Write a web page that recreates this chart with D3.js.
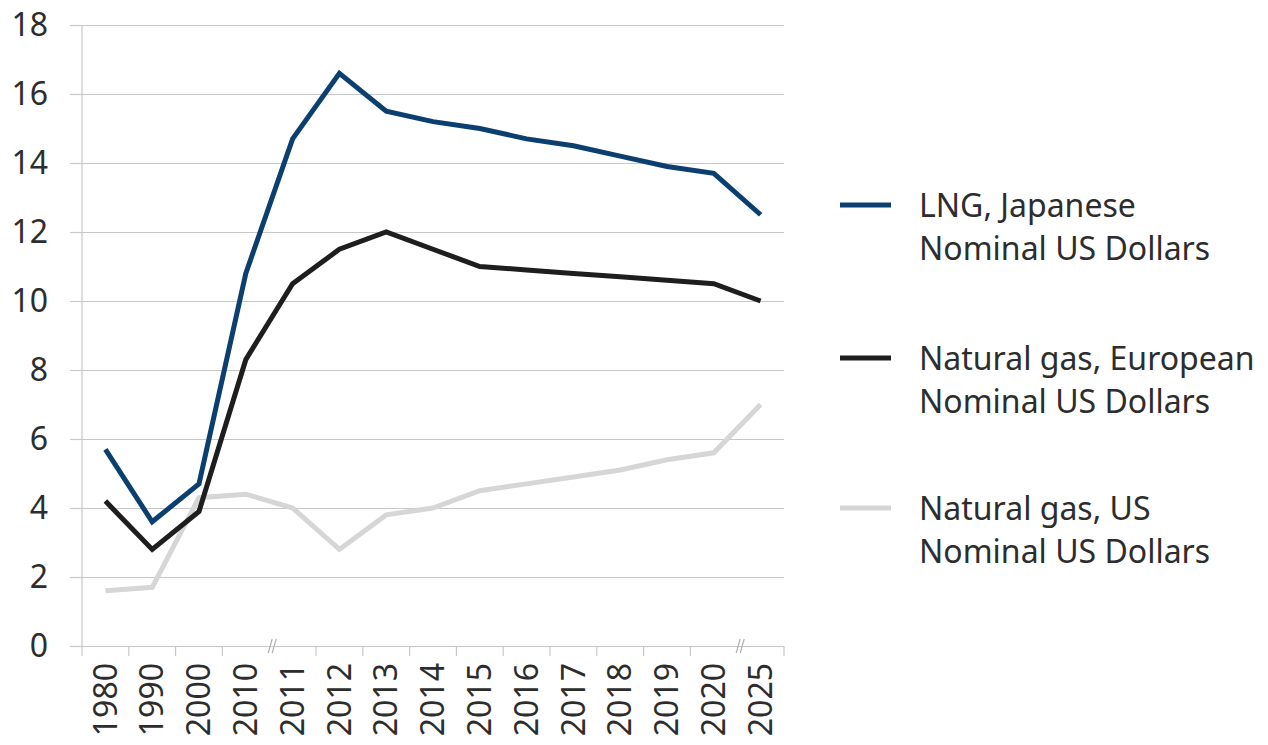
<!DOCTYPE html>
<html>
<head>
<meta charset="utf-8">
<script src="https://cdn.jsdelivr.net/npm/d3@7"></script>
<style>
  body { margin: 0; background: #fff; }
  svg { display: block; font-family: "Noto Sans", sans-serif; }
</style>
</head>
<body>
<svg id="chart"></svg>
<script>
// Chart size
const width = 1268, height = 745;

// Categories and series
const years = ["1980", "1990", "2000", "2010", "2011", "2012", "2013", "2014", "2015", "2016", "2017", "2018", "2019", "2020", "2025"];
const lngJapan = [5.7, 3.6, 4.7, 10.8, 14.7, 16.6, 15.5, 15.2, 15.0, 14.7, 14.5, 14.2, 13.9, 13.7, 12.5];
const gasEurope = [4.2, 2.8, 3.9, 8.3, 10.5, 11.5, 12.0, 11.5, 11.0, 10.9, 10.8, 10.7, 10.6, 10.5, 10.0];
const gasUS = [1.6, 1.7, 4.3, 4.4, 4.0, 2.8, 3.8, 4.0, 4.5, 4.7, 4.9, 5.1, 5.4, 5.6, 7.0];
const yTicks = [0, 2, 4, 6, 8, 10, 12, 14, 16, 18];
const breakAfter = ["2010", "2020"]; // axis breaks

const series = [
  { name: ["LNG, Japanese", "Nominal US Dollars"], values: lngJapan, color: "#0b3f6f" },
  { name: ["Natural gas, European", "Nominal US Dollars"], values: gasEurope, color: "#1e1e1e" },
  { name: ["Natural gas, US", "Nominal US Dollars"], values: gasUS, color: "#d6d6d6" }
];

const fontSize = 32;
const textColor = "#2d2d2d";

const svg = d3.select("#chart")
  .attr("width", width)
  .attr("height", height);

// Scales
const x = d3.scaleBand().domain(years).range([82, 784]).padding(0);
const y = d3.scaleLinear().domain([0, 18]).range([646, 25]);
const gridColor = "#c8c8c8";

// Horizontal gridlines + y labels
svg.append("g")
  .attr("transform", "translate(82,0)")
  .call(d3.axisLeft(y).tickValues(yTicks).tickSize(12).tickPadding(22))
  .call(g => g.select(".domain").remove())
  .call(g => g.selectAll(".tick line").clone()
      .attr("x2", 784 - 82))
  .call(g => g.selectAll(".tick line").attr("stroke", gridColor).attr("stroke-width", 1.2))
  .call(g => g.selectAll(".tick text")
      .attr("fill", textColor)
      .attr("font-size", fontSize)
      .attr("font-family", "Noto Sans"));

// Vertical axis line
svg.append("line")
  .attr("x1", 82).attr("x2", 82)
  .attr("y1", y(18)).attr("y2", 656)
  .attr("stroke", gridColor).attr("stroke-width", 1.2);

// Category boundary ticks below x axis
const boundaries = years.map(d => x(d) + x.bandwidth()).filter((v, i) => !breakAfter.includes(years[i]));
svg.append("g").selectAll("line")
  .data(boundaries)
  .join("line")
  .attr("x1", d => d).attr("x2", d => d)
  .attr("y1", 646).attr("y2", 656)
  .attr("stroke", gridColor).attr("stroke-width", 1.2);

// Axis break marks
const breaks = svg.append("g");
breakAfter.forEach(yr => {
  const bx = x(yr) + x.bandwidth() + 3;
  [-2, 2].forEach(off => {
    breaks.append("line")
      .attr("x1", bx + off - 2).attr("x2", bx + off + 2)
      .attr("y1", 653).attr("y2", 639)
      .attr("stroke", "#b0b0b0").attr("stroke-width", 1.2);
  });
});

// X labels (rotated)
svg.append("g").selectAll("text")
  .data(years)
  .join("text")
  .attr("transform", d => `translate(${x(d) + x.bandwidth() / 2},663) rotate(-90)`)
  .attr("text-anchor", "end")
  .attr("dy", "0.35em")
  .attr("font-size", fontSize)
  .attr("fill", textColor)
  .text(d => d);

// Lines
const line = d3.line()
  .x((d, i) => x(years[i]) + x.bandwidth() / 2)
  .y(d => y(d));

// draw light series first so darker ones sit on top
[series[2], series[1], series[0]].forEach(s => {
  svg.append("path")
    .datum(s.values)
    .attr("fill", "none")
    .attr("stroke", s.color)
    .attr("stroke-width", 5)
    .attr("d", line);
});

// Legend
const legendY = [205, 358, 508];
series.forEach((s, i) => {
  const g = svg.append("g").attr("transform", `translate(0,${legendY[i]})`);
  g.append("line")
    .attr("x1", 840).attr("x2", 891)
    .attr("stroke", s.color).attr("stroke-width", 5);
  g.selectAll("text")
    .data(s.name)
    .join("text")
    .attr("x", 919)
    .attr("y", (d, j) => 12 + j * 43)
    .attr("font-size", fontSize)
    .attr("fill", textColor)
    .text(d => d);
});
</script>
</body>
</html>
